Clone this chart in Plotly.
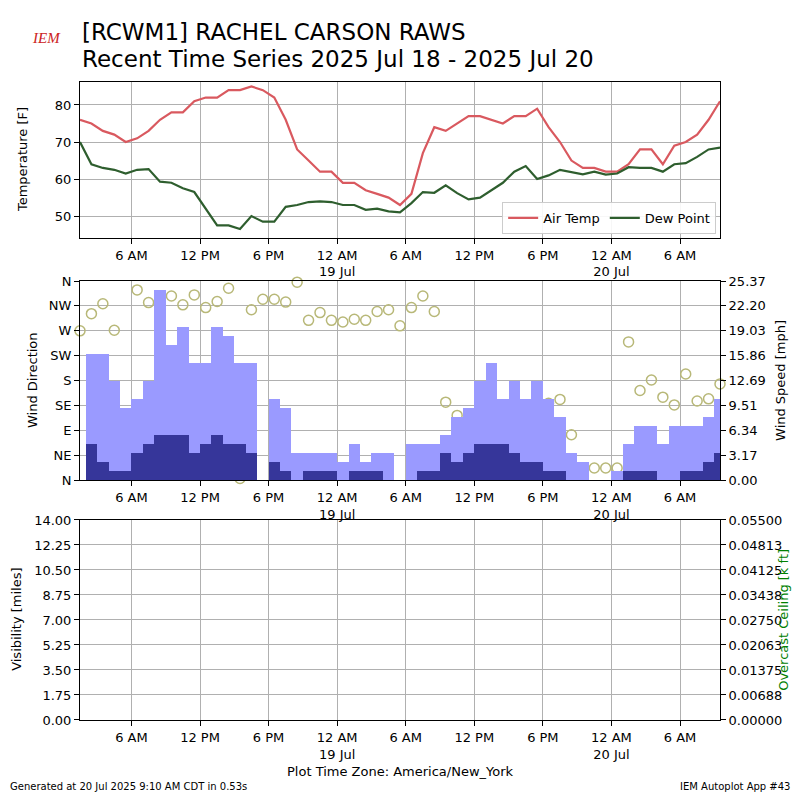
import plotly.graph_objs as go
import pandas as pd

# hourly observations, Jul 18 01:30 -> Jul 20 09:30 (America/New_York)
obs_times = pd.date_range('2025-07-18 01:30', periods=57, freq='h')

air_temp = [76, 75, 73, 72, 70, 71, 73, 76, 78, 78, 81, 82, 82, 84, 84, 85, 84, 82, 76, 68,
            65, 62, 62, 59, 59, 57, 56, 55, 53, 56, 67, 74, 73, 75, 77, 77, 76, 75, 77, 77,
            79, 74, 70, 65, 63, 63, 62, 62, 64, 68, 68, 64, 69, 70, 72, 76, 81]
dew_point = [70, 64, 63, 62.5, 61.5, 62.5, 62.7, 59.3, 59, 57.5, 56.5, 52, 47.5, 47.5, 46.5,
             50, 48.5, 48.5, 52.5, 53, 53.8, 54, 53.8, 53, 53, 51.7, 52, 51.3, 51, 53.5, 56.5,
             56.3, 58.3, 56.2, 54.5, 55, 57, 59, 62, 63.5, 60, 61, 62.5, 61.8, 61.3, 62, 61.2,
             61.5, 63.2, 63, 63, 62, 64, 64.3, 66, 68, 68.5]

# wind in knots
gust_kt = [0, 14, 14, 11, 8, 9, 11, 21, 15, 17, 13, 13, 17, 16, 13, 13, 0, 9, 8, 3, 3, 3, 3,
           2, 4, 2, 3, 3, 0, 4, 4, 4, 5, 7, 8, 11, 13, 9, 11, 9, 11, 9, 7, 3, 2, 0, 0, 1, 4,
           6, 6, 4, 6, 6, 6, 7, 9]
speed_kt = [0, 4, 2, 1, 1, 3, 4, 5, 5, 5, 3, 4, 5, 4, 4, 3, 0, 2, 1, 0, 1, 1, 1, 0, 1, 1, 1,
            0, 0, 0, 1, 1, 3, 2, 3, 4, 4, 4, 3, 2, 2, 1, 1, 0, 0, 0, 0, 0, 1, 1, 1, 0, 0, 1, 1,
            2, 3]
wind_dir = [270, 301, 319, 271, 12, 344, 321, 312, 333, 317, 335, 312, 323, 347, 3, 308, 327,
            327, 322, 358, 289, 303, 289, 286, 291, 289, 305, 308, 279, 312, 333, 305, 141,
            117, 114, 133, 118, 134, 128, 103, 120, 139, 146, 82, 21, 22, 22, 22, 250, 162,
            181, 150, 136, 192, 143, 147, 174]

gust_mph = [g * 1.15078 for g in gust_kt]
speed_mph = [s * 1.15078 for s in speed_kt]

tick_vals = ['2025-07-18 06:00', '2025-07-18 12:00', '2025-07-18 18:00', '2025-07-19 00:00',
             '2025-07-19 06:00', '2025-07-19 12:00', '2025-07-19 18:00', '2025-07-20 00:00',
             '2025-07-20 06:00']
tick_text = ['6 AM', '12 PM', '6 PM', '12 AM<br>19 Jul', '6 AM', '12 PM', '6 PM',
             '12 AM<br>20 Jul', '6 AM']
dir_labels = ['N', 'NE', 'E', 'SE', 'S', 'SW', 'W', 'NW', 'N']

FONT = 'DejaVu Sans'
x_range = ['2025-07-18 01:30', '2025-07-20 09:30']

fig = go.Figure()
fig.add_trace(go.Scatter(x=obs_times, y=air_temp, name='Air Temp', mode='lines',
                         line=dict(color='#d9595f', width=2.2), xaxis='x', yaxis='y'))
fig.add_trace(go.Scatter(x=obs_times, y=dew_point, name='Dew Point', mode='lines',
                         line=dict(color='#2e5e2e', width=2.2), xaxis='x', yaxis='y'))
fig.add_trace(go.Bar(x=obs_times, y=gust_mph, width=3600000, marker=dict(color='#9a9aff', line_width=0),
                     showlegend=False, xaxis='x2', yaxis='y3'))
fig.add_trace(go.Bar(x=obs_times, y=speed_mph, width=3600000, marker=dict(color='#36369a', line_width=0),
                     showlegend=False, xaxis='x2', yaxis='y3'))
fig.add_trace(go.Scatter(x=obs_times, y=wind_dir, mode='markers', showlegend=False,
                         marker=dict(symbol='circle-open', size=10, color='#b8b878', line_width=1.5),
                         xaxis='x2', yaxis='y2', cliponaxis=False))
fig.add_trace(go.Scatter(x=[obs_times[0]], y=[-1], mode='markers', showlegend=False,
                         xaxis='x3', yaxis='y4'))
fig.add_trace(go.Scatter(x=[obs_times[0]], y=[-1], mode='markers', showlegend=False,
                         xaxis='x3', yaxis='y5'))

ax = dict(type='date', range=x_range, tickvals=tick_vals, ticktext=tick_text, automargin=False,
          showgrid=True, gridcolor='#b0b0b0', showline=True, linecolor='black', mirror=True,
          ticks='outside', tickcolor='black', tickfont=dict(size=13, color='black'))
ya = dict(showgrid=True, gridcolor='#b0b0b0', showline=True, linecolor='black', mirror=True,
          ticks='outside', tickcolor='black', tickfont=dict(size=13, color='black'),
          zeroline=False, automargin=False)

fig.update_layout(
    width=784, height=784, template='plotly_white', barmode='overlay', bargap=0,
    font=dict(family=FONT, color='black'),
    margin=dict(l=72, r=72, t=74, b=72, autoexpand=False),
    plot_bgcolor='white', paper_bgcolor='white',
    xaxis=dict(ax, anchor='y'),
    xaxis2=dict(ax, anchor='y2'),
    xaxis3=dict(ax, anchor='y4'),
    yaxis=dict(ya, domain=[0.7555, 1.0], range=[44.1, 86.2], tickvals=[50, 60, 70, 80]),
    yaxis2=dict(ya, domain=[0.376, 0.688], range=[0, 360], tickvals=list(range(0, 361, 45)),
                ticktext=dir_labels, mirror=False),
    yaxis3=dict(ya, overlaying='y2', side='right', anchor='x2', range=[0, 25.37],
                tickvals=[i * 25.37 / 8 for i in range(9)],
                ticktext=['%.2f' % (i * 25.37 / 8) for i in range(9)],
                showgrid=False, mirror=False),
    yaxis4=dict(ya, domain=[0, 0.3135], range=[0, 14], tickvals=[i * 1.75 for i in range(9)],
                ticktext=['%.2f' % (i * 1.75) for i in range(9)]),
    yaxis5=dict(ya, overlaying='y4', side='right', anchor='x3', range=[0, 0.055],
                tickvals=[i * 0.006875 for i in range(9)],
                ticktext=['%.5f' % (i * 0.006875) for i in range(9)],
                showgrid=False, mirror=False),
    legend=dict(orientation='h', x=0.994, xanchor='right', y=0.762, yanchor='bottom',
                bgcolor='rgba(255,255,255,0.9)', bordercolor='#cccccc', borderwidth=1,
                font=dict(size=13)),
)

# axis titles
for txt, x, y, col in [('Temperature [F]', -0.0906, 0.8777, 'black'),
                       ('Wind Direction', -0.0734, 0.533, 'black'),
                       ('Visibility [miles]', -0.0984, 0.157, 'black'),
                       ('Wind Speed [mph]', 1.0953, 0.533, 'black'),
                       ('Overcast Ceiling [k ft]', 1.1, 0.157, 'green')]:
    fig.add_annotation(text=txt, xref='paper', yref='paper', x=x, y=y, textangle=-90,
                       xanchor='center', yanchor='middle', showarrow=False,
                       font=dict(size=13, color=col))

fig.add_annotation(text='[RCWM1] RACHEL CARSON RAWS', xref='paper', yref='paper',
                   x=0, xanchor='left', y=1.078, yanchor='middle', showarrow=False,
                   font=dict(size=23))
fig.add_annotation(text='Recent Time Series 2025 Jul 18 - 2025 Jul 20', xref='paper', yref='paper',
                   x=0, xanchor='left', y=1.036, yanchor='middle', showarrow=False,
                   font=dict(size=23))
fig.add_annotation(text='Plot Time Zone: America/New_York', xref='paper', yref='paper',
                   x=0.5, y=-0.0815, yanchor='middle', showarrow=False, font=dict(size=13))
fig.add_annotation(text='Generated at 20 Jul 2025 9:10 AM CDT in 0.53s', xref='paper', yref='paper',
                   x=-0.1125, xanchor='left', y=-0.104, yanchor='middle', showarrow=False,
                   font=dict(size=10))
fig.add_annotation(text='IEM Autoplot App #43', xref='paper', yref='paper',
                   x=1.1125, xanchor='right', y=-0.104, yanchor='middle', showarrow=False,
                   font=dict(size=10))
fig.add_annotation(text='<i>IEM</i>', xref='paper', yref='paper', x=-0.078, y=1.069,
                   yanchor='middle', showarrow=False,
                   font=dict(size=15, color='#cc2222', family='Liberation Serif'))

fig.write_html('out.html')
